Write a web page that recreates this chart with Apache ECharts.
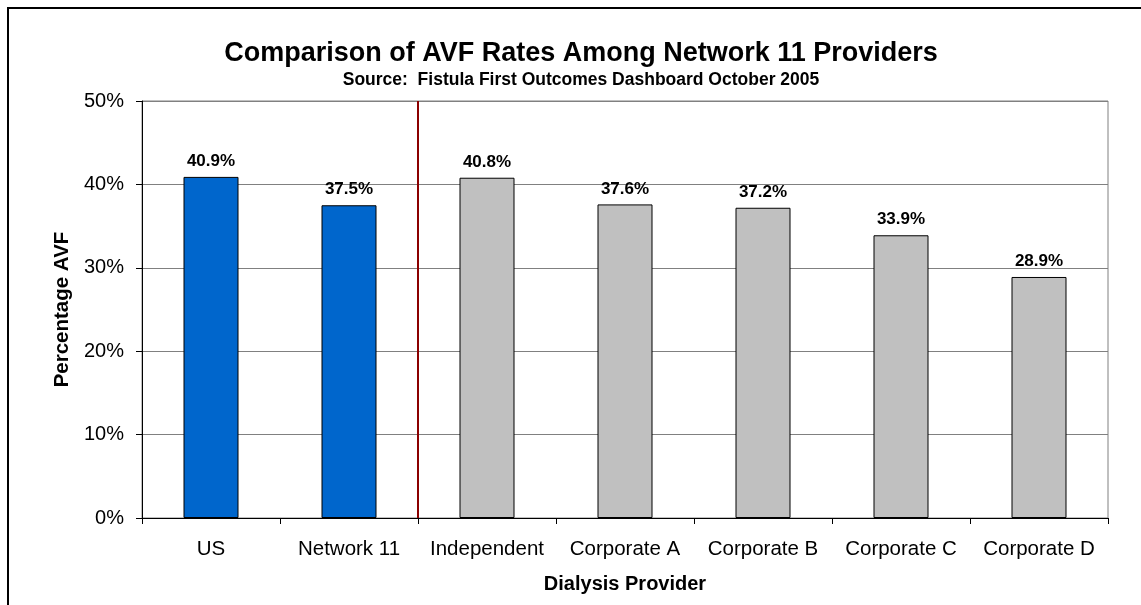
<!DOCTYPE html>
<html>
<head>
<meta charset="utf-8">
<script src="https://cdn.jsdelivr.net/npm/echarts@6/dist/echarts.min.js"></script>
<style>
  body { margin: 0; background: #fff; }
  #wrap { position: relative; width: 1141px; height: 605px; overflow: hidden; }
  #frame { position: absolute; left: 7px; top: 7px; width: 1200px; height: 700px;
           border-left: 2px solid #000; border-top: 2px solid #000; }
  #chart { position: absolute; left: 0; top: 0; width: 1141px; height: 605px; }
</style>
</head>
<body>
<div id="wrap">
  <div id="frame"></div>
  <div id="chart"></div>
</div>
<script>
// 数据
var providers = ['US', 'Network 11', 'Independent', 'Corporate A', 'Corporate B', 'Corporate C', 'Corporate D'];
var avfRates = [40.9, 37.5, 40.8, 37.6, 37.2, 33.9, 28.9];
var barColors = ['#0066CC', '#0066CC', '#C0C0C0', '#C0C0C0', '#C0C0C0', '#C0C0C0', '#C0C0C0'];
// separator between network-level and provider-level bars (category boundary index)
var separatorAt = [[2, 0], [2, 50]];

var font = 'Liberation Sans, Arial, sans-serif';

var chart = echarts.init(document.getElementById('chart'));
chart.setOption({
  animation: false,
  title: {
    text: 'Comparison of AVF Rates Among Network 11 Providers',
    subtext: 'Source:  Fistula First Outcomes Dashboard October 2005',
    left: 581,
    top: 40,
    padding: 0,
    itemGap: 4,
    textAlign: 'center',
    textStyle: { fontFamily: font, fontSize: 27, fontWeight: 'bold', color: '#000' },
    subtextStyle: { fontFamily: font, fontSize: 17.5, fontWeight: 'bold', color: '#000' }
  },
  grid: {
    left: 142, top: 101, right: 33, bottom: 87,
    show: true, borderColor: '#808080', borderWidth: 1
  },
  xAxis: [
    {
      type: 'category',
      data: providers,
      name: 'Dialysis Provider',
      nameLocation: 'middle',
      nameGap: 56,
      nameTextStyle: { fontFamily: font, fontSize: 20, fontWeight: 'bold', color: '#000' },
      axisLine: { lineStyle: { color: '#000', width: 1 } },
      axisTick: { show: true, length: 6, lineStyle: { color: '#000' } },
      axisLabel: { fontFamily: font, fontSize: 20.5, color: '#000', margin: 21, interval: 0 },
      splitLine: { show: false }
    },
    {
      type: 'value',
      min: 0, max: 7,
      show: false
    }
  ],
  yAxis: {
    type: 'value',
    min: 0, max: 50, interval: 10,
    name: 'Percentage AVF',
    nameLocation: 'middle',
    nameGap: 69,
    nameRotate: 90,
    nameTextStyle: { fontFamily: font, fontSize: 20.5, fontWeight: 'bold', color: '#000' },
    axisLine: { show: true, lineStyle: { color: '#000', width: 1 } },
    axisTick: { show: true, length: 6, lineStyle: { color: '#000' } },
    axisLabel: { fontFamily: font, fontSize: 20, color: '#000', margin: 18, formatter: '{value}%' },
    splitLine: { show: true, lineStyle: { color: '#808080', width: 1 } }
  },
  series: [
    {
      type: 'bar',
      barWidth: 55,
      data: avfRates.map(function (v, i) {
        return { value: v, itemStyle: { color: barColors[i] } };
      }),
      itemStyle: { borderColor: '#000', borderWidth: 1 },
      label: {
        show: true,
        position: 'top',
        distance: 7,
        fontFamily: font,
        fontSize: 17,
        fontWeight: 'bold',
        color: '#000',
        formatter: function (p) { return p.value.toFixed(1) + '%'; }
      }
    },
    {
      type: 'line',
      xAxisIndex: 1,
      data: separatorAt,
      symbol: 'none',
      lineStyle: { color: '#8B0000', width: 2 },
      z: 5
    }
  ]
});
</script>
</body>
</html>
